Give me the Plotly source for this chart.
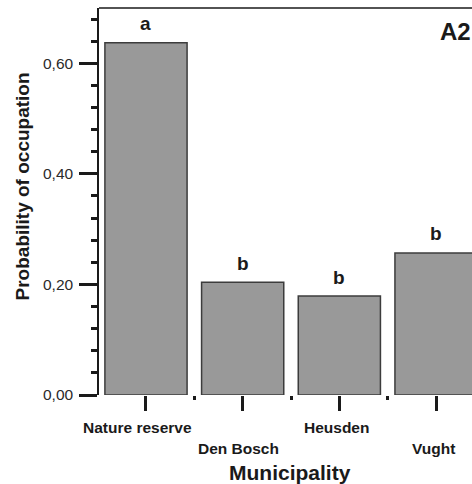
import plotly.graph_objects as go

# Occupation probability per municipality
municipalities = ["Nature reserve", "Den Bosch", "Heusden", "Vught"]
probability = [0.637, 0.204, 0.179, 0.257]
group_letters = ["a", "b", "b", "b"]
y_tick_values = [0.0, 0.2, 0.4, 0.6]
y_tick_labels = ["0,00", "0,20", "0,40", "0,60"]

FONT = "Arial, Liberation Sans, Helvetica, sans-serif"
INK = "#1a1a1a"
x_pos = list(range(len(municipalities)))
label_nudge = [-8, -4, -3, -3]

fig = go.Figure()
fig.add_trace(go.Bar(
    x=x_pos, y=probability, width=0.85,
    marker=dict(color="#999999", line=dict(color="#3c3c3c", width=1.5)),
    showlegend=False, hoverinfo="skip",
))

# significance letters above each bar
for xi, yi, letter in zip(x_pos, probability, group_letters):
    fig.add_annotation(x=xi, y=yi, xref="x", yref="y", text=f"<b>{letter}</b>",
                       showarrow=False, yshift=19,
                       font=dict(family=FONT, size=19, color=INK))

# staggered category labels below the axis
for i, (xi, name) in enumerate(zip(x_pos, municipalities)):
    fig.add_annotation(x=xi, y=0, xref="x", yref="paper", text=f"<b>{name}</b>",
                       showarrow=False, yanchor="middle",
                       xshift=label_nudge[i],
                       yshift=-32 if i % 2 == 0 else -53,
                       font=dict(family=FONT, size=15.5, color=INK))

# axis titles
fig.add_annotation(x=0.512, y=-0.2, xref="paper", yref="paper",
                   text="<b>Municipality</b>", showarrow=False,
                   xanchor="center", yanchor="middle",
                   font=dict(family=FONT, size=21, color=INK))
fig.add_annotation(x=-0.2038, y=0.5388, xref="paper", yref="paper",
                   text="<b>Probability of occupation</b>", showarrow=False,
                   textangle=-90, xanchor="center", yanchor="middle",
                   font=dict(family=FONT, size=19, color=INK))

# panel label
fig.add_annotation(x=0.9095, y=0.94, xref="paper", yref="paper", text="<b>A2</b>",
                   showarrow=False, xanchor="left", yanchor="middle",
                   font=dict(family=FONT, size=24, color=INK))

# top frame line
fig.add_shape(type="line", xref="paper", yref="paper", x0=0, x1=1, y0=1, y1=1,
              line=dict(color=INK, width=1.5))

fig.update_layout(
    width=472, height=484,
    margin=dict(l=99, r=0, t=8, b=89),
    paper_bgcolor="white", plot_bgcolor="white",
    font=dict(family=FONT, color=INK),
    xaxis=dict(
        range=[-0.486, 3.372], showgrid=False, zeroline=False, showline=False,
        tickmode="array", tickvals=x_pos, ticktext=[""] * len(x_pos),
        ticks="outside", ticklen=15, tickwidth=3, tickcolor=INK,
        minor=dict(tickmode="array", tickvals=[0.5, 1.5, 2.5],
                   ticks="outside", ticklen=4, tickwidth=3, tickcolor=INK),
    ),
    yaxis=dict(
        range=[0, 0.70], showgrid=False, zeroline=False,
        showline=True, linecolor=INK, linewidth=1.5,
        tickmode="array", tickvals=y_tick_values, ticktext=y_tick_labels,
        ticks="outside", ticklen=18, tickwidth=3, tickcolor=INK,
        ticklabelstandoff=3,
        tickfont=dict(family=FONT, size=15.5, color="#2a2a2a"),
        minor=dict(tickmode="linear", tick0=0, dtick=0.04,
                   ticks="outside", ticklen=6, tickwidth=3, tickcolor=INK),
    ),
)

fig.write_html("out.html")
